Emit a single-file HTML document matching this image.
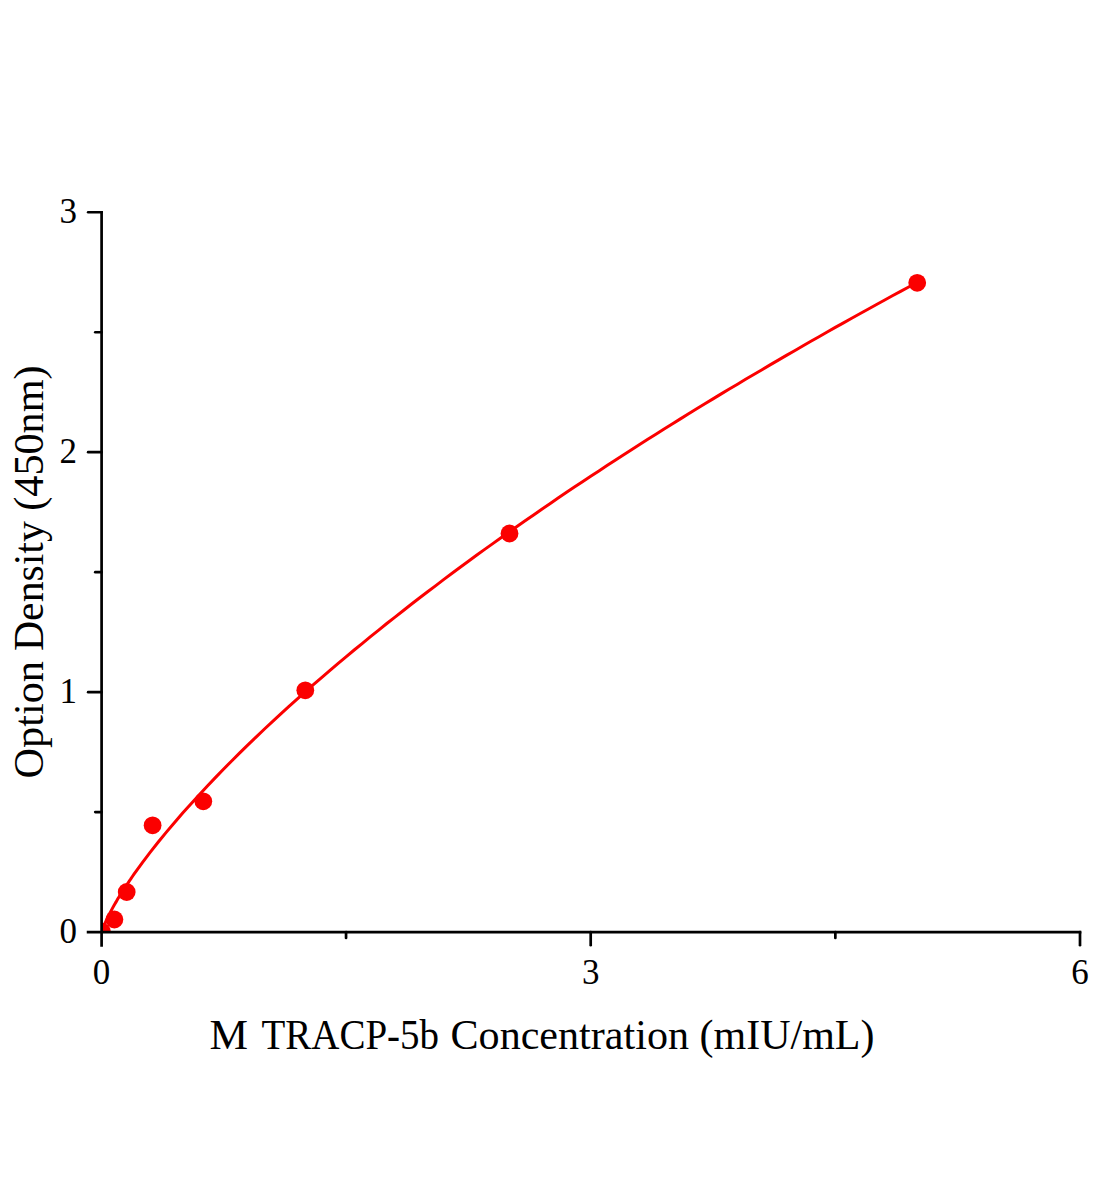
<!DOCTYPE html>
<html><head><meta charset="utf-8"><title>ELISA standard curve</title>
<style>html,body{margin:0;padding:0;background:#fff;}svg{display:block;}</style></head>
<body><svg width="1104" height="1200" viewBox="0 0 1104 1200">
<rect width="1104" height="1200" fill="#fff"/>
<defs><clipPath id="c"><rect x="101.4" y="150" width="1000" height="782.1"/></clipPath></defs>
<polyline points="101.4,934.0 103.0,928.2 104.7,924.1 106.3,920.4 107.9,916.9 109.6,913.7 111.2,910.6 112.8,907.6 114.4,904.7 116.1,901.9 117.7,899.1 119.3,896.4 121.0,893.8 122.6,891.2 124.2,888.7 125.9,886.2 127.5,883.7 129.1,881.3 130.8,878.9 132.4,876.5 134.0,874.2 142.2,862.9 150.3,852.2 158.5,841.8 166.6,831.9 174.8,822.2 182.9,812.8 191.1,803.7 199.3,794.7 207.4,786.0 215.6,777.4 223.7,769.0 231.9,760.7 240.0,752.6 248.2,744.6 256.3,736.8 264.5,729.0 272.7,721.4 280.8,713.8 289.0,706.4 297.1,699.1 305.3,691.8 313.4,684.7 321.6,677.6 329.7,670.6 337.9,663.6 346.0,656.8 354.2,650.0 362.4,643.3 370.5,636.6 378.7,630.1 386.8,623.5 395.0,617.1 403.1,610.7 411.3,604.3 419.4,598.0 427.6,591.8 435.8,585.6 443.9,579.4 452.1,573.3 460.2,567.3 468.4,561.3 476.5,555.3 484.7,549.4 492.8,543.6 501.0,537.8 509.1,532.0 517.3,526.2 525.5,520.5 533.6,514.9 541.8,509.2 549.9,503.7 558.1,498.1 566.2,492.6 574.4,487.1 582.5,481.7 590.7,476.3 598.9,470.9 607.0,465.6 615.2,460.2 623.3,455.0 631.5,449.7 639.6,444.5 647.8,439.3 655.9,434.2 664.1,429.0 672.2,423.9 680.4,418.9 688.6,413.8 696.7,408.8 704.9,403.8 713.0,398.9 721.2,393.9 729.3,389.0 737.5,384.2 745.6,379.3 753.8,374.5 762.0,369.7 770.1,364.9 778.3,360.1 786.4,355.4 794.6,350.7 802.7,346.0 810.9,341.3 819.0,336.7 827.2,332.0 835.3,327.4 843.5,322.9 851.7,318.3 859.8,313.8 868.0,309.3 876.1,304.8 884.3,300.3 892.4,295.8 900.6,291.4 908.7,287.0 916.9,282.6" fill="none" stroke="#fb0000" stroke-width="3" stroke-linejoin="round" clip-path="url(#c)"/>
<g fill="#fb0000" clip-path="url(#c)"><circle cx="101.4" cy="932.1" r="9.6"/><circle cx="114.4" cy="919.5" r="8.9"/><circle cx="126.7" cy="892" r="8.9"/><circle cx="152.6" cy="825.3" r="8.9"/><circle cx="203.3" cy="801.3" r="8.9"/><circle cx="305.3" cy="690.3" r="8.9"/><circle cx="509.5" cy="533.5" r="8.9"/><circle cx="917.2" cy="282.8" r="8.9"/></g>
<g stroke="#000" stroke-width="2.7" stroke-linecap="square"><line x1="101.6" y1="212.25" x2="101.6" y2="945.3000000000001"/><line x1="88.10000000000001" y1="932.1" x2="1080.00" y2="932.1"/></g>
<g stroke="#000" stroke-width="2.7" stroke-linecap="round"><line x1="88.15" y1="692.15" x2="101.6" y2="692.15"/><line x1="88.15" y1="452.20" x2="101.6" y2="452.20"/><line x1="88.15" y1="212.25" x2="101.6" y2="212.25"/><line x1="95.25" y1="812.12" x2="101.6" y2="812.12"/><line x1="95.25" y1="572.18" x2="101.6" y2="572.18"/><line x1="95.25" y1="332.23" x2="101.6" y2="332.23"/><line x1="590.70" y1="932.1" x2="590.70" y2="945.15"/><line x1="1080.00" y1="932.1" x2="1080.00" y2="945.15"/><line x1="346.05" y1="932.1" x2="346.05" y2="937.95"/><line x1="835.35" y1="932.1" x2="835.35" y2="937.95"/></g>
<g font-family="Liberation Serif, serif" font-size="35" fill="#000"><text x="77" y="942.7" text-anchor="end">0</text><text x="77" y="702.8" text-anchor="end">1</text><text x="77" y="462.8" text-anchor="end">2</text><text x="77" y="222.9" text-anchor="end">3</text><text x="101.4" y="984" text-anchor="middle">0</text><text x="590.7" y="984" text-anchor="middle">3</text><text x="1080.0" y="984" text-anchor="middle">6</text></g>
<g font-family="Liberation Serif, serif" font-size="42.5" fill="#000"><text x="209.50" y="1048.5" textLength="38.50" lengthAdjust="spacingAndGlyphs">M</text><text x="261.50" y="1048.5" textLength="177.50" lengthAdjust="spacingAndGlyphs">TRACP-5b</text><text x="450.50" y="1048.5" textLength="238.50" lengthAdjust="spacingAndGlyphs">Concentration</text><text x="699.50" y="1048.5" textLength="175.00" lengthAdjust="spacingAndGlyphs">(mIU/mL)</text></g>
<g transform="translate(43,0) rotate(-90)" font-family="Liberation Serif, serif" font-size="42.5" fill="#000"><text x="-778.50" y="0" textLength="117.50" lengthAdjust="spacingAndGlyphs">Option</text><text x="-651.00" y="0" textLength="129.75" lengthAdjust="spacingAndGlyphs">Density</text><text x="-510.75" y="0" textLength="145.25" lengthAdjust="spacingAndGlyphs">(450nm)</text></g>
</svg></body></html>
